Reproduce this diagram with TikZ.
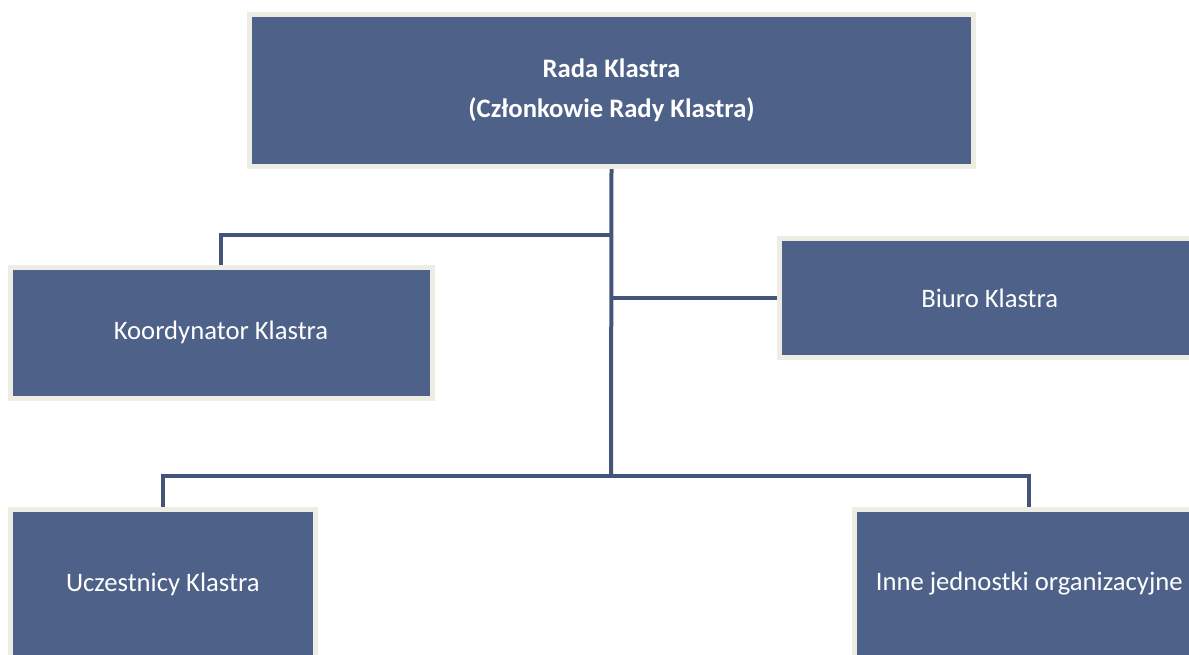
\documentclass[tikz,border=0pt]{standalone}
\usepackage{fontspec}
\setmainfont{Carlito}
\usepackage{tikz}

\definecolor{boxblue}{HTML}{4E6189}
\definecolor{boxrim}{HTML}{EEEDE3}
\definecolor{linkblue}{HTML}{45557A}

\tikzset{
	unit/.style={draw=boxrim, line width=3.75pt, fill=boxblue, text=white, inner sep=0pt, align=center, font=\fontsize{20}{30}\selectfont},
	link/.style={draw=linkblue, line width=3pt}
}

\begin{document}
\begin{tikzpicture}[x=0.75pt, y=-0.75pt]

		\useasboundingbox (0, 0) rectangle (1189, 654);
		
		\node[unit, minimum width=543pt, minimum height=114pt] (rada) at (611.5, 90.5) {\bfseries Rada Klastra\\\bfseries (Członkowie Rady Klastra)};
		
		\node[unit, minimum width=316.5pt, minimum height=98.25pt] (koord) at (221, 332.5) {Koordynator Klastra};
		\node[unit, minimum width=315.4pt, minimum height=89.25pt] (biuro) at (989.75, 298) {Biuro Klastra};
		
		\node[unit, minimum width=229.1pt, minimum height=111.75pt] (uczest) at (162.75, 584) {Uczestnicy Klastra};
		\node[unit, minimum width=262.1pt, minimum height=111.75pt] (inne) at (1029.25, 584) {Inne jednostki organizacyjne};
		
		\coordinate (split1) at (611, 235);
		\coordinate (split2) at (611, 476);
		
		\draw[link] (rada.south) -- (split2);
		\draw[link] (split1) -| (koord.north);
		\draw[link] (biuro.west -| split1) -- (biuro.west);
		\draw[link] (split2) -| (uczest.north);
		\draw[link] (split2) -| (inne.north);
		
	\end{tikzpicture}
\end{document}
